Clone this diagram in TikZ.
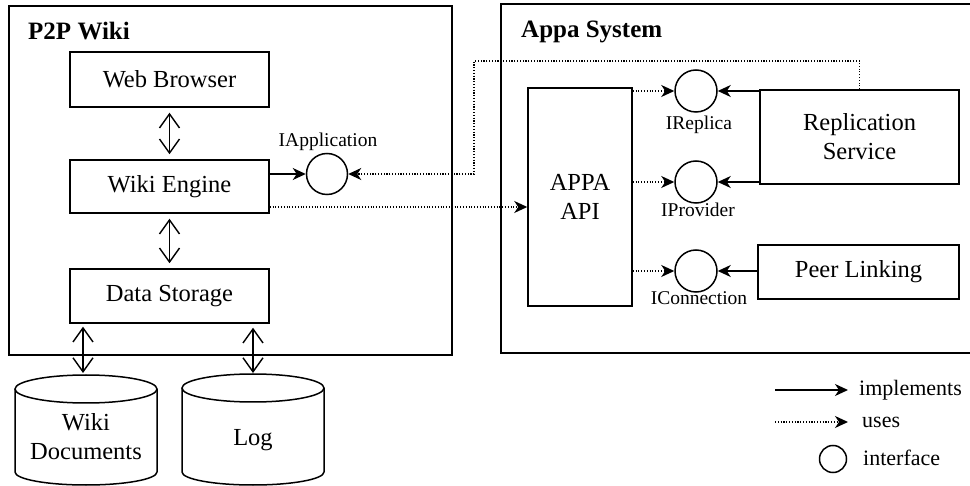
\documentclass[tikz,border=0pt]{standalone}
\usepackage{fontspec}
\setmainfont{Liberation Serif}
\usetikzlibrary{arrows.meta}
\begin{document}
\begin{tikzpicture}[x=1pt,y=-1pt,
  boxline/.style={draw,line width=1.6pt},
  comp/.style={draw,line width=1.5pt,inner sep=0pt,font=\fontsize{24.5}{29}\selectfont,align=center},
  iface/.style={draw,circle,line width=1.5pt,inner sep=0pt},
  implarr/.style={line width=1.5pt,-{Stealth[length=13pt,width=12pt,inset=4pt]}},
  usesarr/.style={line width=1.3pt,dash pattern=on 1.1pt off 1.7pt,-{Stealth[length=13pt,width=12pt,inset=4pt]}},
  dotline/.style={line width=1.3pt,dash pattern=on 1.1pt off 1.7pt},
  bidir/.style={line width=1.4pt,{Straight Barb[length=14pt,width=20pt]}-{Straight Barb[length=14pt,width=20pt]}},
  lbl/.style={font=\fontsize{19.5}{22}\selectfont,inner sep=0pt,anchor=base},
  legtext/.style={font=\fontsize{22}{26}\selectfont,inner sep=0pt,anchor=base west},
  ttl/.style={font=\fontsize{25}{28}\selectfont\bfseries,inner sep=0pt,anchor=base west}]
\useasboundingbox (0,0) rectangle (970,486);

% outer frames
\draw[boxline] (9,6) rectangle (452,355);
\draw[boxline] (501,4) rectangle (990,353);
\node[ttl] (t1) at (28,40) {P2P Wiki};
\node[ttl] (t2) at (521,38) {Appa System};

% P2P Wiki components
\node[comp,minimum width=199pt,minimum height=55pt] (WB) at (169.5,79.5) {Web Browser};
\node[comp,minimum width=199pt,minimum height=53pt] (WE) at (169.5,186.5) {Wiki Engine};
\node[comp,minimum width=199pt,minimum height=54pt] (DS) at (169.5,296) {Data Storage};

% Appa components
\node[comp,minimum width=104pt,minimum height=218pt] (API) at (580,197) {APPA\\API};
\node[comp,minimum width=199pt,minimum height=94pt] (RS) at (859.5,137) {Replication\\Service};
\node[comp,minimum width=201pt,minimum height=54pt] (PL) at (858.5,272) {Peer Linking};

% interfaces
\node[iface,minimum size=41pt] (IApp) at (327,174) {};
\node[iface,minimum size=42pt] (IRep) at (696,91) {};
\node[iface,minimum size=42pt] (IProv) at (696,182) {};
\node[iface,minimum size=42pt] (IConn) at (696,271) {};
\node[lbl] at (328,147) {IApplication};
\node[lbl] at (699,130) {IReplica};
\node[lbl] at (698,217) {IProvider};
\node[lbl] at (699,305) {IConnection};

% databases
\draw[line width=1.5pt] (86,389) ellipse [x radius=71pt, y radius=14pt];
\draw[line width=1.5pt] (15,389) -- (15,472) arc[start angle=180,end angle=360,x radius=71pt,y radius=13pt] -- (157,389);
\draw[line width=1.5pt] (253,388) ellipse [x radius=71pt, y radius=14pt];
\draw[line width=1.5pt] (182,388) -- (182,472) arc[start angle=180,end angle=360,x radius=71pt,y radius=13pt] -- (324,388);
\node[font=\fontsize{24.5}{29}\selectfont,align=center,inner sep=0pt] (WD) at (86,437) {Wiki\\Documents};
\node[font=\fontsize{24.5}{29}\selectfont,inner sep=0pt] (LG) at (253,440) {Log};
\coordinate (WDtop) at (83,375);
\coordinate (LGtop) at (253,374);

% bidirectional arrows
\draw[bidir,shorten <=5pt,shorten >=5pt] (WB.south) -- (WE.north);
\draw[bidir,shorten <=5pt,shorten >=5pt] (WE.south) -- (DS.north);
\draw[bidir,shorten <=3pt,shorten >=2pt] (DS.south -| WDtop) -- (WDtop);
\draw[bidir,shorten <=4pt,shorten >=1pt] (DS.south -| LGtop) -- (LGtop);

% implements
\draw[implarr] (WE.east |- IApp) -- (IApp);
\draw[implarr] (RS.west |- IRep) -- (IRep);
\draw[implarr] (RS.west |- IProv) -- (IProv);
\draw[implarr] (PL.west |- IConn) -- (IConn);

% uses
\coordinate (c1) at (474,61);
\coordinate (u1) at (0,207);
\draw[usesarr] (RS.north) -- (RS.north |- c1) -- (c1) -- (c1 |- IApp) -- (IApp);
\draw[usesarr] (WE.east |- u1) -- (API.west |- u1);
\draw[usesarr] (API.east |- IRep) -- (IRep);
\draw[usesarr] (API.east |- IProv) -- (IProv);
\draw[usesarr] (API.east |- IConn) -- (IConn);

% legend
\coordinate (l1a) at (775,390);
\coordinate (l1b) at (848,390);
\coordinate (l2a) at (775,422);
\coordinate (l2b) at (848,422);
\draw[implarr] (l1a) -- (l1b);
\draw[usesarr] (l2a) -- (l2b);
\node[iface,minimum size=27pt] (lc) at (833,459) {};
\node[legtext] at (859,396) {implements};
\node[legtext] at (862,428) {uses};
\node[legtext] at (863,465) {interface};
\end{tikzpicture}
\end{document}
